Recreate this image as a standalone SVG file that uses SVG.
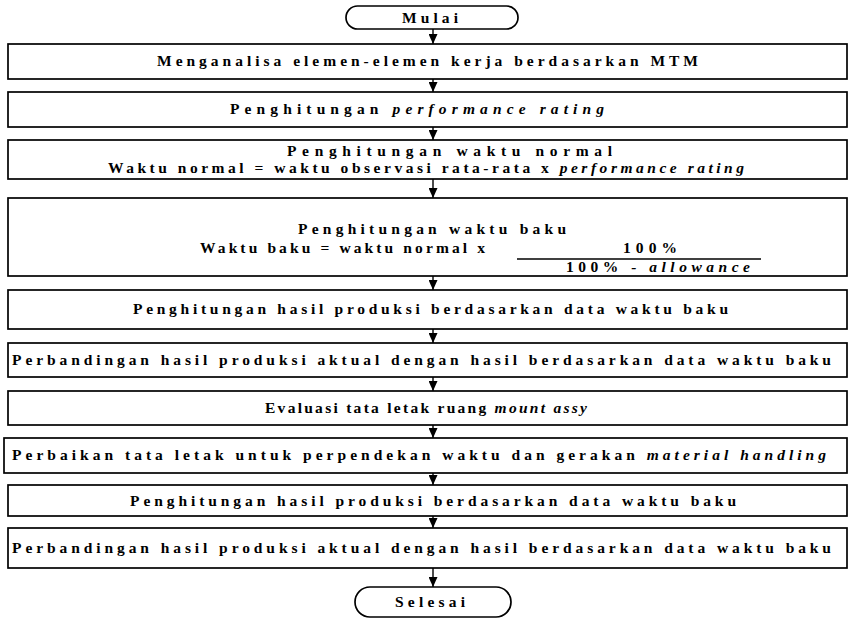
<svg xmlns="http://www.w3.org/2000/svg" width="849" height="619" viewBox="0 0 849 619">
<defs>
<style>
.box{fill:#fff;stroke:#000;stroke-width:1.7}
.t{font-family:"Liberation Serif",serif;font-weight:bold;font-size:15.5px;fill:#000}
.i{font-style:italic}
.c{stroke:#000;stroke-width:1.4;fill:none}
</style>
<marker id="ah" viewBox="0 0 10 9" refX="10" refY="4.5" markerWidth="10" markerHeight="9" markerUnits="userSpaceOnUse" orient="auto">
<path d="M0,0 L10,4.5 L0,9 Z" fill="#000"/>
</marker>
</defs>
<rect width="849" height="619" fill="#fff"/>
<g id="connectors">
<line class="c" x1="433" y1="29" x2="433" y2="44" marker-end="url(#ah)"/>
<line class="c" x1="433" y1="79" x2="433" y2="92" marker-end="url(#ah)"/>
<line class="c" x1="433" y1="127" x2="433" y2="140" marker-end="url(#ah)"/>
<line class="c" x1="433" y1="179" x2="433" y2="198" marker-end="url(#ah)"/>
<line class="c" x1="433" y1="276" x2="433" y2="290" marker-end="url(#ah)"/>
<line class="c" x1="433" y1="329" x2="433" y2="343" marker-end="url(#ah)"/>
<line class="c" x1="433" y1="377" x2="433" y2="391" marker-end="url(#ah)"/>
<line class="c" x1="433" y1="425" x2="433" y2="438" marker-end="url(#ah)"/>
<line class="c" x1="433" y1="473" x2="433" y2="485" marker-end="url(#ah)"/>
<line class="c" x1="433" y1="516" x2="433" y2="528" marker-end="url(#ah)"/>
<line class="c" x1="433" y1="568" x2="433" y2="587" marker-end="url(#ah)"/>
</g>
<g id="mulai">
<rect class="box" x="346" y="6" width="172" height="23" rx="11.5"/>
<text class="t" x="402" y="23" textLength="56" lengthAdjust="spacing">Mulai</text>
</g>
<g id="n1">
<rect class="box" x="8" y="44" width="839" height="35"/>
<text class="t" x="157" y="66" textLength="541" lengthAdjust="spacing">Menganalisa elemen-elemen kerja berdasarkan MTM</text>
</g>
<g id="n2">
<rect class="box" x="8" y="92" width="839" height="35"/>
<text class="t" x="230" y="114" textLength="374" lengthAdjust="spacing">Penghitungan <tspan class="i">performance rating</tspan></text>
</g>
<g id="n3">
<rect class="box" x="8" y="140" width="839" height="39"/>
<text class="t" x="287" y="156" textLength="325" lengthAdjust="spacing">Penghitungan waktu normal</text>
<text class="t" x="108" y="173" textLength="636" lengthAdjust="spacing">Waktu normal = waktu observasi rata-rata x <tspan class="i">performance rating</tspan></text>
</g>
<g id="n4">
<rect class="box" x="8" y="198" width="839" height="78"/>
<text class="t" x="298" y="234" textLength="268" lengthAdjust="spacing">Penghitungan waktu baku</text>
<text class="t" x="200" y="253" textLength="285" lengthAdjust="spacing">Waktu baku = waktu normal x</text>
<text class="t" x="623" y="253" textLength="54" lengthAdjust="spacing">100%</text>
<line x1="517" y1="259" x2="761" y2="259" stroke="#000" stroke-width="1.4"/>
<text class="t" x="566" y="272" textLength="184" lengthAdjust="spacing">100% <tspan class="i">- allowance</tspan></text>
</g>
<g id="n5">
<rect class="box" x="8" y="290" width="839" height="39"/>
<text class="t" x="133" y="314" textLength="595" lengthAdjust="spacing">Penghitungan hasil produksi berdasarkan data waktu baku</text>
</g>
<g id="n6">
<rect class="box" x="8" y="343" width="839" height="34"/>
<text class="t" x="12" y="365" textLength="819" lengthAdjust="spacing">Perbandingan hasil produksi aktual dengan hasil berdasarkan data waktu baku</text>
</g>
<g id="n7">
<rect class="box" x="8" y="391" width="839" height="34"/>
<text class="t" x="265" y="413" textLength="322" lengthAdjust="spacing">Evaluasi tata letak ruang <tspan class="i">mount assy</tspan></text>
</g>
<g id="n8">
<rect class="box" x="4" y="438" width="843" height="35"/>
<text class="t" x="12" y="460" textLength="814" lengthAdjust="spacing">Perbaikan tata letak untuk perpendekan waktu dan gerakan <tspan class="i">material handling</tspan></text>
</g>
<g id="n9">
<rect class="box" x="8" y="485" width="839" height="31"/>
<text class="t" x="130" y="506" textLength="606" lengthAdjust="spacing">Penghitungan hasil produksi berdasarkan data waktu baku</text>
</g>
<g id="n10">
<rect class="box" x="8" y="528" width="839" height="40"/>
<text class="t" x="12" y="553" textLength="819" lengthAdjust="spacing">Perbandingan hasil produksi aktual dengan hasil berdasarkan data waktu baku</text>
</g>
<g id="selesai">
<rect class="box" x="355" y="587" width="156" height="30" rx="15"/>
<text class="t" x="395" y="607" textLength="70" lengthAdjust="spacing">Selesai</text>
</g>
</svg>
